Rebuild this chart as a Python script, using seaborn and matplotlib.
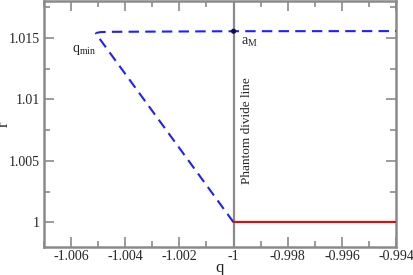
import matplotlib
matplotlib.use("Agg")
import matplotlib.pyplot as plt
import seaborn as sns
import pandas as pd
from matplotlib.ticker import MultipleLocator

# Data
q_blue = [-1.0, -1.00508, -1.00505, -1.0049, -1.0045, -1.0, -0.994]
r_blue = [1.0, 1.01535, 1.01542, 1.01548, 1.0155, 1.01555, 1.01556]
q_red = [-1.0, -0.994]
r_red = [1.0, 1.0]
q_mark = [-1.0]
r_mark = [1.01555]
x_ticks = [-1.006, -1.004, -1.002, -1.0, -0.998, -0.996, -0.994]
x_tick_labels = ["-1.006", "-1.004", "-1.002", "-1", "-0.998", "-0.996", "-0.994"]
y_ticks = [1.0, 1.005, 1.01, 1.015]
y_tick_labels = ["1", "1.005", "1.01", "1.015"]

sns.set_style("ticks")
plt.rcParams['font.family'] = ['Liberation Serif', 'DejaVu Serif']
plt.rcParams['mathtext.fontset'] = 'custom'
plt.rcParams['mathtext.rm'] = 'Liberation Serif'
plt.rcParams['mathtext.it'] = 'Liberation Serif:italic'

fig = plt.figure(figsize=(4.14, 2.75), dpi=100)
ax = fig.add_axes([0.106, 0.102, 0.851, 0.894])

gray = "#8a8a8a"
ax.axvline(-1.0, color=gray, lw=1.6, zorder=1)

df_blue = pd.DataFrame({"q": q_blue, "r": r_blue})
sns.lineplot(data=df_blue, x="q", y="r", ax=ax, sort=False, estimator=None,
             color="#1f1fff", lw=1.5, linestyle=(0, (5, 3)), zorder=3)
df_red = pd.DataFrame({"q": q_red, "r": r_red})
sns.lineplot(data=df_red, x="q", y="r", ax=ax, sort=False, estimator=None,
             color="red", lw=1.5, zorder=3)
sns.scatterplot(x=q_mark, y=r_mark, ax=ax, color="#101040", s=14, edgecolor="none", zorder=4)

ax.set_xlim(-1.007, -0.994)
ax.set_ylim(0.998, 1.018)
ax.set_xticks(x_ticks)
ax.set_xticklabels(x_tick_labels)
ax.set_yticks(y_ticks)
ax.set_yticklabels(y_tick_labels)
ax.xaxis.set_minor_locator(MultipleLocator(0.001))
ax.yaxis.set_minor_locator(MultipleLocator(0.0025))
ax.tick_params(which="both", direction="in", top=True, right=True, color=gray,
               labelsize=10, width=1.2)
ax.tick_params(axis="x", pad=2)
ax.tick_params(axis="y", pad=3)
ax.tick_params(which="major", length=7)
ax.tick_params(which="minor", length=4)
for s in ax.spines.values():
    s.set_color(gray)
    s.set_linewidth(1.8)

ax.set_xlabel("q", fontsize=12, labelpad=-2)
ax.set_ylabel("r", fontsize=12)
ax.yaxis.set_label_coords(-0.092, 0.5)

ax.text(-1.00597, 1.0140, r"q$_{\mathrm{min}}$", fontsize=10, ha="left", va="center")
ax.text(-0.99972, 1.0146, r"a$_{\mathrm{M}}$", fontsize=10, ha="left", va="center")
ax.text(-0.99951, 1.0075, "Phantom divide line", rotation=90, fontsize=9.5,
        ha="center", va="center")

fig.savefig("out.png", dpi=100)
